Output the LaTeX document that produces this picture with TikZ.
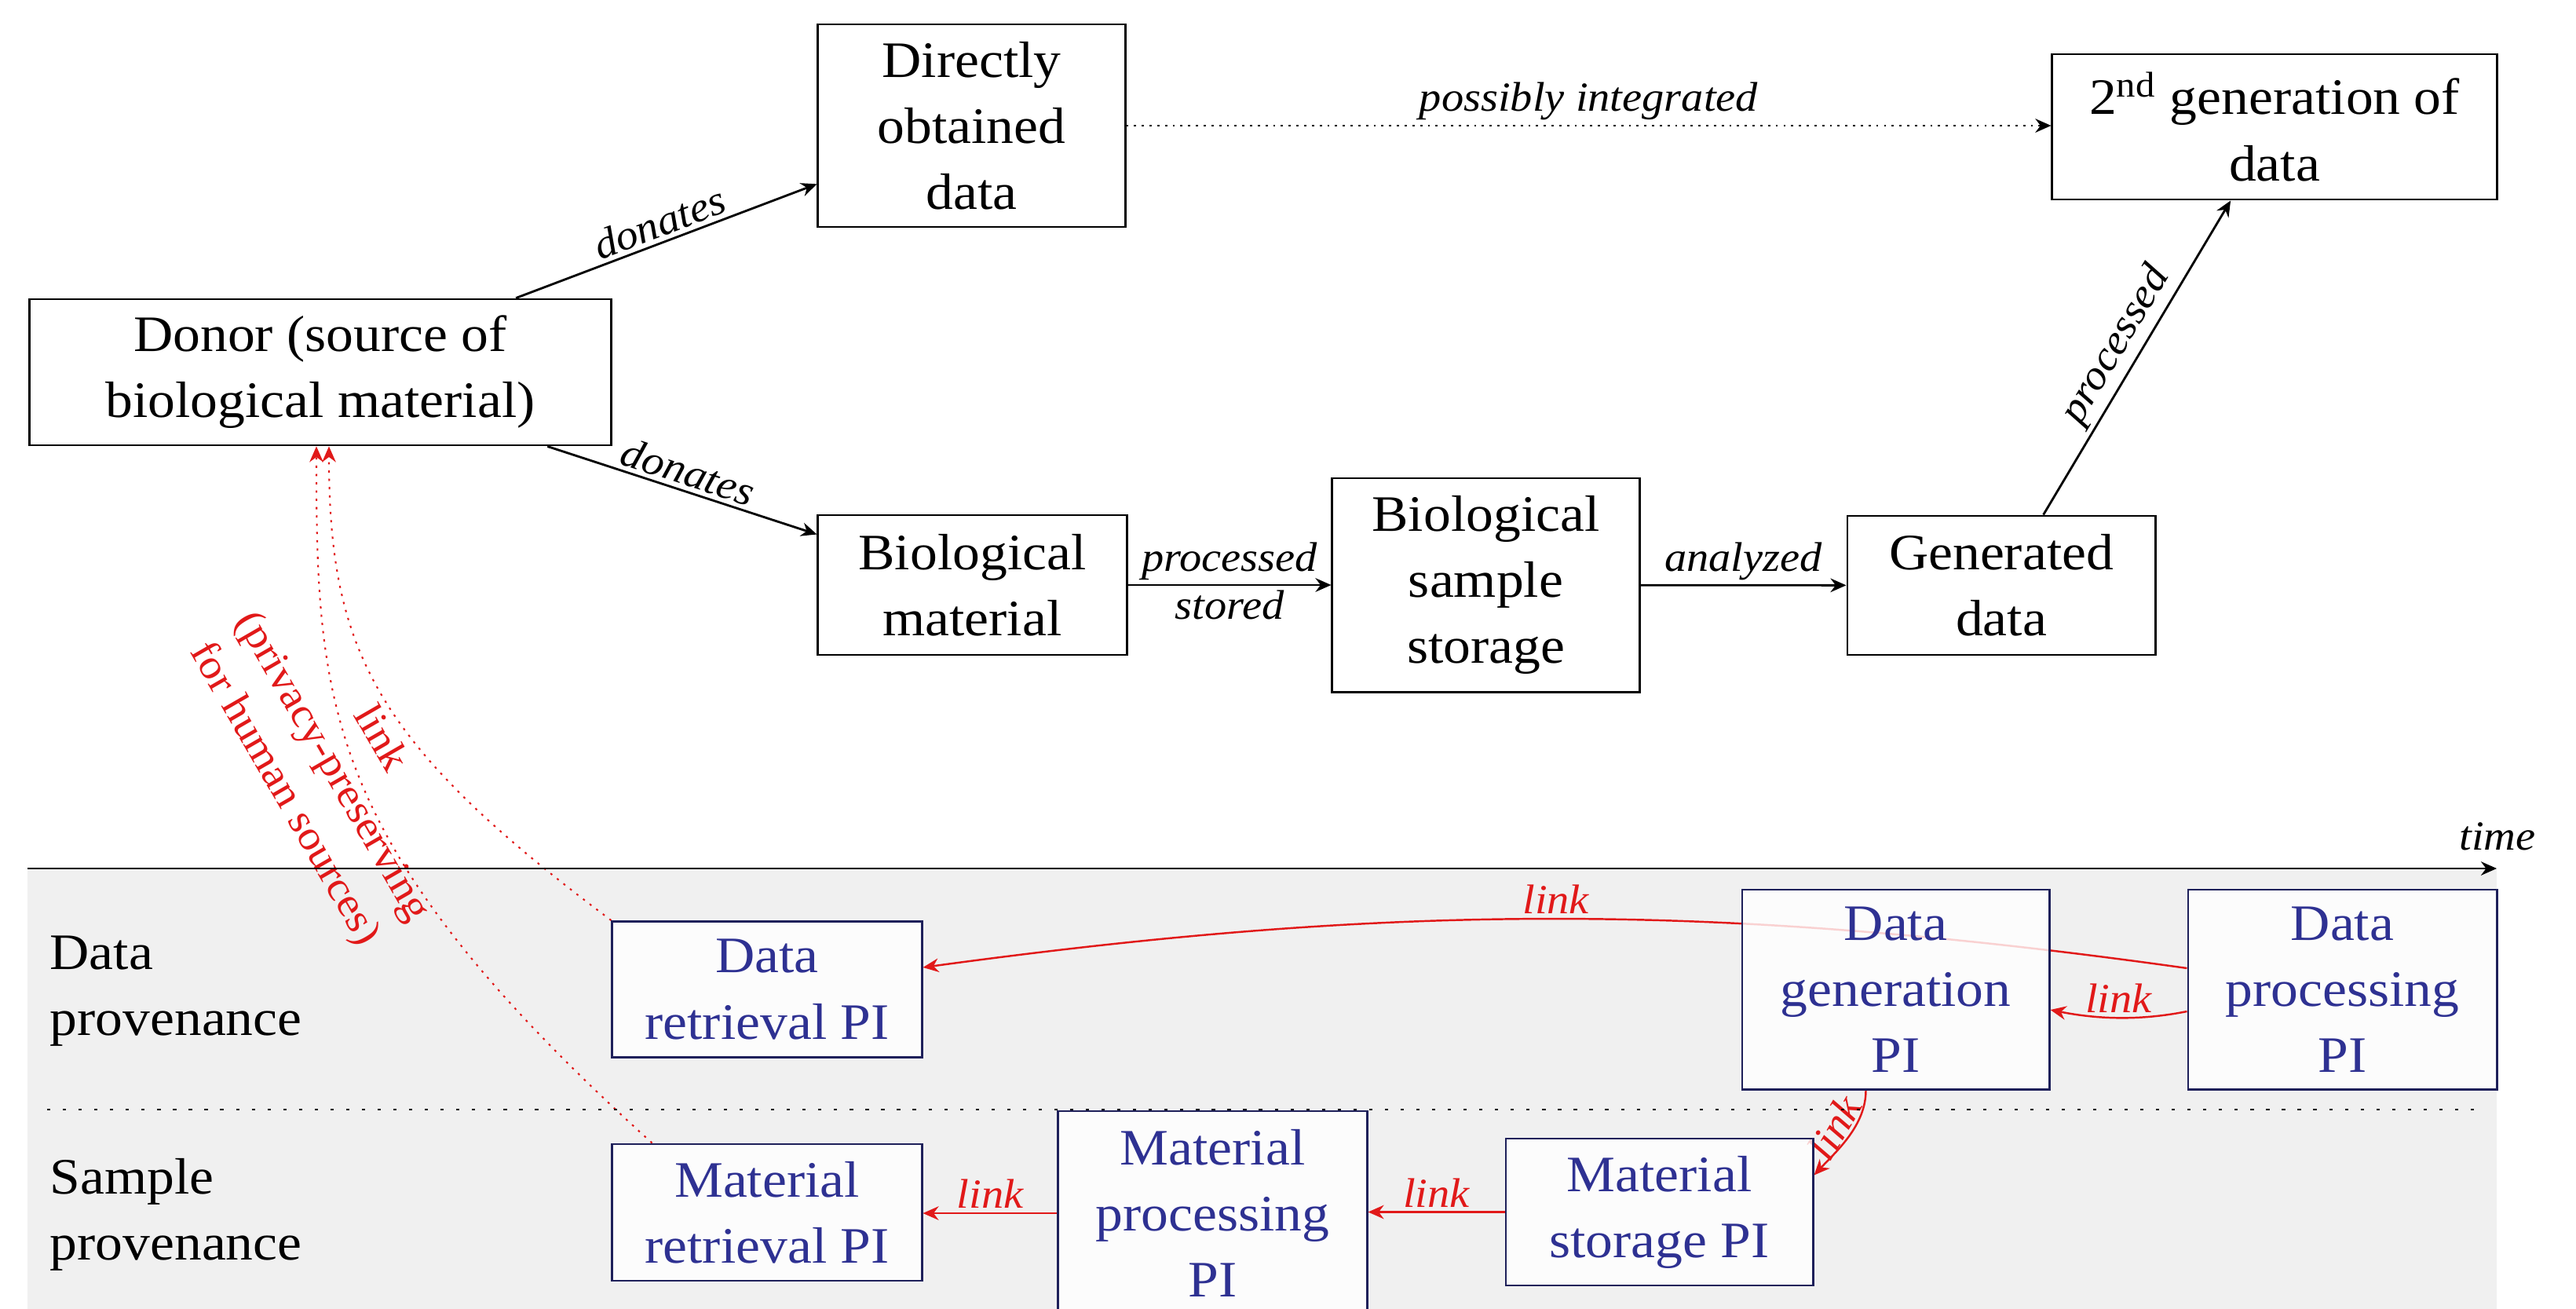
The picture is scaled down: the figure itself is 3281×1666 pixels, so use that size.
\documentclass[tikz,border=0pt]{standalone}
\usepackage{fontspec}
\setmainfont{Liberation Serif}[FakeStretch=1.07]
\usetikzlibrary{arrows.meta,calc}
\pgfdeclarelayer{bg}
\pgfdeclarelayer{lk}
\pgfsetlayers{bg,lk,main}
\definecolor{piblue}{RGB}{46,49,146}
\definecolor{piborder}{RGB}{30,32,90}
\definecolor{lkred}{RGB}{225,25,25}
\definecolor{band}{RGB}{240,240,240}
\newcommand\boxfont{\fontsize{18.5}{23.9}\selectfont}
\newcommand\lblfont{\fontsize{15}{19}\selectfont\itshape}
\newcommand\privfont{\fontsize{15}{19.9}\selectfont}
\tikzset{
  box/.style={draw=black, line width=0.8pt, inner sep=0pt, align=center, font=\boxfont},
  pibox/.style={draw=piborder, line width=0.8pt, fill=white, fill opacity=0.8, text opacity=1,
    text=piblue, inner sep=0pt, align=center, font=\boxfont},
  lane/.style={inner sep=0pt, align=left, font=\boxfont},
  flow/.style={-{Stealth[length=5.7pt,width=5pt]}, line width=0.8pt},
  lbl/.style={font=\lblfont, inner sep=1.5pt},
  lk/.style={-{Stealth[length=5.7pt,width=5pt]}, draw=lkred, line width=0.7pt},
  lkdot/.style={lk, dash pattern=on 0.8pt off 2.2pt, line width=0.6pt},
  lklbl/.style={font=\lblfont, text=lkred, inner sep=1.5pt},
  sepline/.style={line width=0.8pt, dash pattern=on 1.2pt off 4.5pt},
}
\begin{document}
\begin{tikzpicture}[x=0.01cm, y=-0.01cm]
\useasboundingbox (0,0) rectangle (3281,1666);
\begin{pgfonlayer}{bg}
  \fill[band] (35,1106) rectangle (3180,1690);
\end{pgfonlayer}

% upper flow
\node[box, minimum width=7.40cm, minimum height=1.86cm] (donor) at (408,474) {Donor (source of\\biological material)};
\node[box, minimum width=3.91cm, minimum height=2.58cm] (direct) at (1237.5,160) {Directly\\obtained\\data};
\node[box, minimum width=5.66cm, minimum height=1.85cm] (gen2) at (2897,161.5) {2\textsuperscript{nd} generation of\\data};
\node[box, minimum width=3.93cm, minimum height=1.78cm] (biomat) at (1238.5,745) {Biological\\material};
\node[box, minimum width=3.91cm, minimum height=2.72cm] (storage) at (1892.5,745) {Biological\\sample\\storage};
\node[box, minimum width=3.92cm, minimum height=1.77cm] (gendata) at (2549,745.5) {Generated\\data};

\draw[flow] (donor) -- node[lbl, midway, above, sloped] {donates} (direct);
\draw[flow] (donor) -- node[lbl, midway, above, sloped] {donates} (biomat);
\draw[flow, dotted] (direct.east) -- node[lbl, above] {possibly integrated} (direct.east -| gen2.west);
\draw[flow] (biomat) -- node[lbl, above] {processed} node[lbl, below] {stored} (storage);
\draw[flow] (storage) -- node[lbl, above] {analyzed} (gendata);
\draw[flow] (gendata) -- node[lbl, midway, above, sloped] {processed} (gen2);

% timeline and lanes
\coordinate (t0) at (35,1106);
\coordinate (t1) at (3180,1106);
\draw[flow] (t0) -- (t1);
\node[lbl] (time) at (3181,1065) {time};
\coordinate (s0) at (60,1413);
\coordinate (s1) at (3158,1413);
\draw[sepline] (s0) -- (s1);
\node[lane, anchor=west] (dprov) at (63,1262) {Data\\provenance};
\node[lane, anchor=west] (sprov) at (63,1547) {Sample\\provenance};

% PI boxes
\node[pibox, minimum width=3.94cm, minimum height=1.73cm] (dataret) at (977,1260) {Data\\retrieval PI};
\node[pibox, minimum width=3.94cm, minimum height=1.74cm] (matret) at (977,1544) {Material\\retrieval PI};
\node[pibox, minimum width=3.93cm, minimum height=2.60cm] (matproc) at (1544.5,1545) {Material\\processing\\PI};
\node[pibox, minimum width=3.91cm, minimum height=1.87cm] (matstor) at (2113.5,1543.5) {Material\\storage PI};
\node[pibox, minimum width=3.91cm, minimum height=2.54cm] (datagen) at (2414.5,1260) {Data\\generation\\PI};
\node[pibox, minimum width=3.93cm, minimum height=2.54cm] (dataproc) at (2983.5,1260) {Data\\processing\\PI};

% links
\begin{pgfonlayer}{lk}
\draw[lk] ($(dataproc.west)+(0,-27)$) .. controls (2187,1149) and (1777,1150) ..
  node[lklbl, pos=0.5, above] {link} ($(dataret.east)+(0,-28)$);
\draw[lk] ($(dataproc.west)+(0,28)$) .. controls +(-60,12) and +(60,12) ..
  node[lklbl, pos=0.5, above] {link} ($(datagen.east)+(0,26)$);
\draw[lk] ($(datagen.south)+(-38,0)$) .. controls +(0,45) and +(28,-30) .. ($(matstor.east)+(0,-47)$);
\node[lklbl, rotate=60] (lk3) at (2336,1436) {link};
\draw[lk] (matstor.west) -- node[lklbl, above] {link} (matstor.west -| matproc.east);
\draw[lk] (matproc.west) -- node[lklbl, above] {link} (matproc.west -| matret.east);
\draw[lkdot] (dataret.north west) .. controls (479,948) and (419,830) .. ($(donor.south)+(11,0)$);
\draw[lkdot] ($(matret.north west)+(52,0)$) .. controls (412,1077) and (403,900) .. ($(donor.south)+(-5,0)$);
\node[text=lkred, font=\privfont, rotate=-60, align=center, inner sep=0pt] (privlbl) at (422,977)
  {link\\(privacy-preserving\\for human sources)};
\end{pgfonlayer}
\end{tikzpicture}
\end{document}
